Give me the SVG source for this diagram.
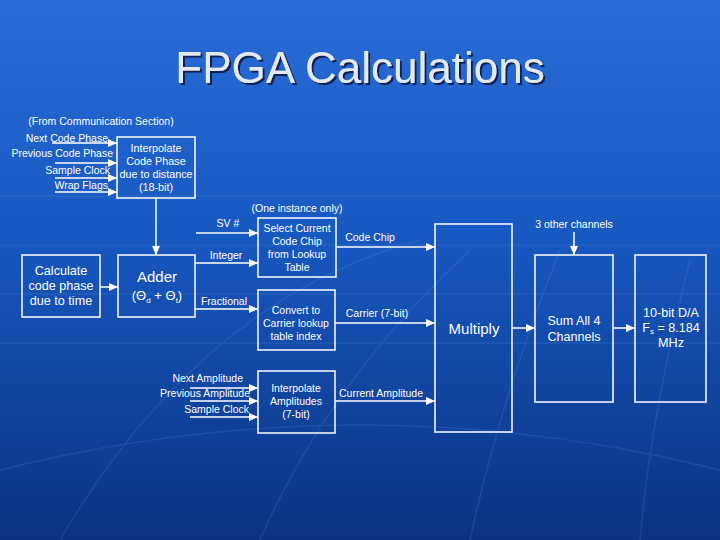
<svg xmlns="http://www.w3.org/2000/svg" width="720" height="540" viewBox="0 0 720 540">
<defs>
<linearGradient id="bg" x1="0" y1="0" x2="0" y2="1">
<stop offset="0" stop-color="#2a6cd6"/>
<stop offset="0.45" stop-color="#1757c0"/>
<stop offset="1" stop-color="#0b3380"/>
</linearGradient>
<filter id="sh" x="-10%" y="-30%" width="120%" height="160%">
<feDropShadow dx="2" dy="2" stdDeviation="0.6" flood-color="#0a2456" flood-opacity="1"/>
</filter>
<marker id="ah" markerUnits="userSpaceOnUse" markerWidth="9" markerHeight="8" refX="9" refY="4" orient="auto">
<path d="M0,0 L9,4 L0,8 z" fill="#ffffff"/>
</marker>
<style>
.box{fill:none;stroke:#ffffff;stroke-width:1.5}
.ln{fill:none;stroke:#ffffff;stroke-width:1.5;marker-end:url(#ah)}
.t{font-family:"Liberation Sans",Arial,sans-serif;fill:#ffffff}
.s{font-size:10.5px}
.m{font-size:12.6px}
.c{text-anchor:middle}
.r{text-anchor:end}
.grid{stroke:#6fa0ee;stroke-width:1.5;opacity:0.15;fill:none}
</style>
</defs>
<rect x="0" y="0" width="720" height="540" fill="url(#bg)"/>
<g class="grid">
<line x1="0" y1="196" x2="720" y2="196"/>
<line x1="0" y1="245" x2="720" y2="245"/>
<line x1="0" y1="294" x2="720" y2="294"/>
<line x1="0" y1="343" x2="720" y2="343"/>
<path d="M60,540 Q200,300 420,240"/>
<path d="M260,540 Q330,380 470,250"/>
<path d="M470,540 Q500,400 560,250"/>
<path d="M640,540 Q650,420 690,260"/>
<path d="M0,470 Q360,380 720,470"/>
</g>
<text x="360" y="83" class="t c" font-size="44" style="fill:#e4eaf4" filter="url(#sh)">FPGA Calculations</text>

<g id="connectors">
<line class="ln" x1="52" y1="143" x2="117" y2="143"/>
<line class="ln" x1="55" y1="163" x2="117" y2="163"/>
<line class="ln" x1="55" y1="178" x2="117" y2="178"/>
<line class="ln" x1="55" y1="192" x2="117" y2="192"/>
<line class="ln" x1="156" y1="198" x2="156" y2="255"/>
<line class="ln" x1="100" y1="287" x2="118" y2="287"/>
<line class="ln" x1="195" y1="263" x2="258" y2="263"/>
<line class="ln" x1="195" y1="309" x2="258" y2="309"/>
<line class="ln" x1="196" y1="233" x2="258" y2="233"/>
<line class="ln" x1="336" y1="247" x2="435" y2="247"/>
<line class="ln" x1="335" y1="323" x2="435" y2="323"/>
<line class="ln" x1="335" y1="401" x2="435" y2="401"/>
<line class="ln" x1="190" y1="388" x2="258" y2="388"/>
<line class="ln" x1="190" y1="401" x2="258" y2="401"/>
<line class="ln" x1="190" y1="417" x2="258" y2="417"/>
<line class="ln" x1="512" y1="328" x2="535" y2="328"/>
<line class="ln" x1="613" y1="328" x2="635" y2="328"/>
<line class="ln" x1="574" y1="232" x2="574" y2="255"/>
<text x="101" y="125" class="t s c">(From Communication Section)</text>
<text x="108" y="142" class="t s r">Next Code Phase</text>
<text x="113" y="157" class="t s r">Previous Code Phase</text>
<text x="110" y="174" class="t s r">Sample Clock</text>
<text x="108" y="189" class="t s r">Wrap Flags</text>
<text x="297" y="212" class="t s c">(One instance only)</text>
<text x="228" y="227" class="t s c">SV #</text>
<text x="226" y="259" class="t s c">Integer</text>
<text x="224" y="305" class="t s c">Fractional</text>
<text x="370" y="241" class="t s c">Code Chip</text>
<text x="377" y="317" class="t s c">Carrier (7-bit)</text>
<text x="381" y="397" class="t s c">Current Amplitude</text>
<text x="243" y="382" class="t s r">Next Amplitude</text>
<text x="250" y="397" class="t s r">Previous Amplitude</text>
<text x="249" y="413" class="t s r">Sample Clock</text>
<text x="574" y="228" class="t s c">3 other channels</text>
</g>

<g id="interp-code">
<rect class="box" x="117" y="137" width="78" height="61"/>
<text class="t c" font-size="10.8" x="156" y="152">Interpolate</text>
<text class="t c" font-size="10.8" x="156" y="165">Code Phase</text>
<text class="t c" font-size="10.8" x="156" y="178">due to distance</text>
<text class="t c" font-size="10.8" x="156" y="191">(18-bit)</text>
</g>
<g id="calc">
<rect class="box" x="22" y="255" width="78" height="62"/>
<text class="t m c" x="61" y="275">Calculate</text>
<text class="t m c" x="61" y="290">code phase</text>
<text class="t m c" x="61" y="305">due to time</text>
</g>
<g id="adder">
<rect class="box" x="118" y="255" width="77" height="62"/>
<text class="t c" font-size="15" x="157" y="282">Adder</text>
<text class="t c" font-size="13" x="157" y="300">(Θ<tspan font-size="8" dy="3">d</tspan><tspan dy="-3"> + Θ</tspan><tspan font-size="8" dy="3">t</tspan><tspan dy="-3">)</tspan></text>
</g>
<g id="select">
<rect class="box" x="258" y="218" width="78" height="59"/>
<text class="t s c" x="297" y="232">Select Current</text>
<text class="t s c" x="297" y="245">Code Chip</text>
<text class="t s c" x="297" y="258">from Lookup</text>
<text class="t s c" x="297" y="271">Table</text>
</g>
<g id="convert">
<rect class="box" x="258" y="290" width="77" height="60"/>
<text class="t s c" x="296" y="314">Convert to</text>
<text class="t s c" x="296" y="327">Carrier lookup</text>
<text class="t s c" x="296" y="340">table index</text>
</g>
<g id="interp-amp">
<rect class="box" x="258" y="371" width="77" height="62"/>
<text class="t s c" x="296" y="392">Interpolate</text>
<text class="t s c" x="296" y="405">Amplitudes</text>
<text class="t s c" x="296" y="418">(7-bit)</text>
</g>
<g id="multiply">
<rect class="box" x="435" y="224" width="77" height="208"/>
<text class="t c" font-size="15" x="474" y="334">Multiply</text>
</g>
<g id="sum">
<rect class="box" x="535" y="255" width="78" height="147"/>
<text class="t m c" x="574" y="325">Sum All 4</text>
<text class="t m c" x="574" y="341">Channels</text>
</g>
<g id="da">
<rect class="box" x="635" y="255" width="71" height="147"/>
<text class="t m c" x="671" y="317">10-bit D/A</text>
<text class="t m c" x="671" y="332">F<tspan font-size="8" dy="2">s</tspan><tspan dy="-2"> = 8.184</tspan></text>
<text class="t m c" x="671" y="347">MHz</text>
</g>
</svg>
